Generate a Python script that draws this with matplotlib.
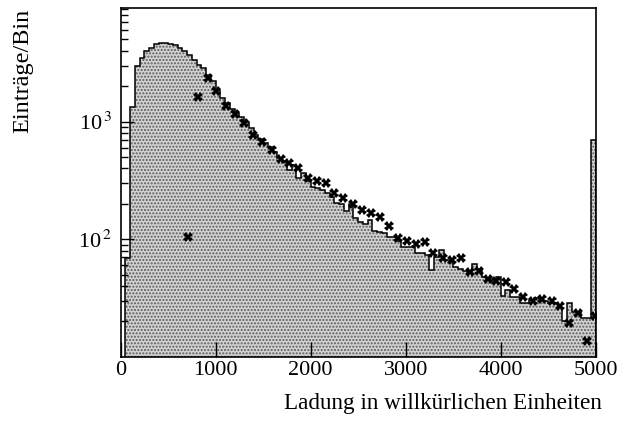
import numpy as np
import matplotlib.pyplot as plt

plt.rcParams['font.family'] = ['Liberation Serif', 'DejaVu Serif']
plt.rcParams['mathtext.fontset'] = 'stix'

# histogram: 100 bins of width 50 from 0 to 5000 (first bin empty)
bin_edges = np.linspace(0, 5000, 101)
counts = [
    1, 69, 1340, 2980, 3500, 3990, 4210, 4550, 4640, 4640,
    4600, 4490, 4240, 3950, 3690, 3350, 3040, 2830, 2500, 2200,
    1850, 1580, 1430, 1270, 1180, 1090, 1000, 880, 770, 710,
    660, 610, 555, 490, 457, 388, 428, 330, 364, 312,
    280, 270, 263, 246, 230, 205, 200, 172, 200, 151,
    140, 135, 146, 118, 114, 112, 105, 105, 97, 86,
    86, 86, 76, 76, 74, 55, 70, 81, 67, 66,
    58, 56, 54, 53, 62, 56, 48, 46, 44, 48,
    33, 37, 32.5, 32.5, 28.5, 28.5, 30.5, 31.4, 29.5, 29.5,
    28.5, 28.5, 26, 20, 28.7, 24.2, 24.2, 21.3, 21.3, 700,
]

# measured points (stars)
meas_x = [712, 817, 916, 1006, 1108, 1200, 1298, 1393, 1491, 1589,
          1687, 1775, 1869, 1968, 2063, 2158, 2248, 2343, 2442, 2537,
          2632, 2729, 2824, 2916, 3017, 3105, 3203, 3291, 3389, 3484,
          3579, 3677, 3772, 3863, 3954, 4056, 4143, 4238, 4343, 4432,
          4537, 4624, 4719, 4817, 4912, 4996]
meas_y = [104, 1633, 2340, 1834, 1360, 1163, 980, 771, 676, 574,
          479, 443, 402, 330, 315, 303, 249, 223, 199, 178,
          168, 153, 130, 103, 96.6, 90.7, 94.3, 76, 69.8, 66.7,
          68.9, 53, 53.7, 46, 44.2, 42.8, 37.6, 32.5, 29.5, 31.1,
          29.5, 27.2, 19.5, 23.5, 13.7, 22.3]

fig = plt.figure(figsize=(6.24, 4.21), dpi=100)
ax = fig.add_axes([0.1934, 0.1527, 0.7613, 0.8276])

# stippled fill + outline
ax.stairs(counts, bin_edges, baseline=1, fill=True, facecolor='#d2d2d2',
          edgecolor='#5a5a5a', hatch='.....', linewidth=0)
ax.stairs(counts, bin_edges, baseline=1, color='black', linewidth=1.1)
ax.plot(meas_x, meas_y, linestyle='none', marker='X', markersize=6.5,
        color='black', markeredgewidth=0)

ax.set_yscale('log')
ax.set_xlim(0, 5000)
ax.set_ylim(10, 9200)

ax.set_xticks([0, 1000, 2000, 3000, 4000, 5000])
ax.set_yticks([100, 1000])
ax.set_yticklabels(['10$^{\\,2}$', '10$^{\\,3}$'])
ax.set_yticks([v * d for d in (10, 100, 1000) for v in range(2, 10) if v * d < 9200],
              minor=True)
ax.set_yticklabels([], minor=True)

ax.tick_params(axis='x', direction='in', length=11, width=1, labelsize=16,
               pad=3)
ax.tick_params(axis='y', which='major', direction='in', length=9, width=1,
               labelsize=16, pad=6)
ax.tick_params(axis='y', which='minor', direction='in', length=5, width=1)
for s in ax.spines.values():
    s.set_linewidth(1.2)

ax.set_xlabel('Ladung in willkürlichen Einheiten', fontsize=16.7, loc='right')
ax.xaxis.set_label_coords(1.013, -0.105)
ax.set_ylabel('Einträge/Bin', fontsize=17.5, loc='top')
ax.yaxis.set_label_coords(-0.184, 1.0)

fig.savefig('out.png', dpi=100)
